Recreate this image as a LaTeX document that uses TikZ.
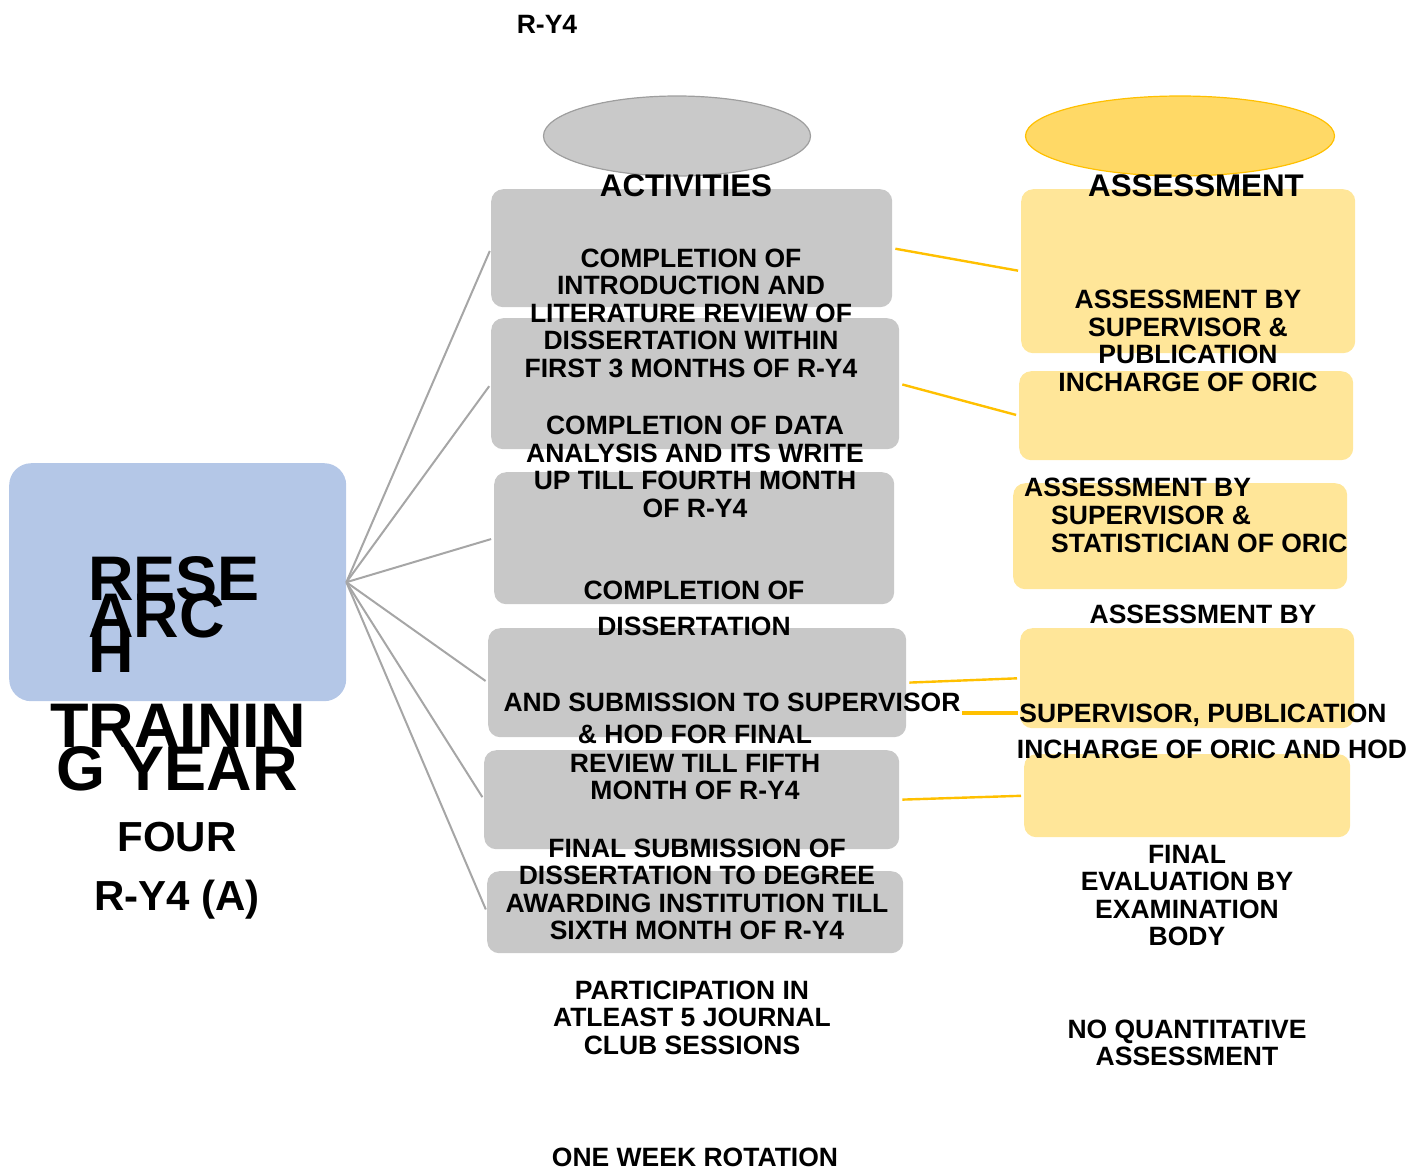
\documentclass[tikz,border=0pt]{standalone}
\usepackage{fontspec}
\setmainfont{Liberation Sans}
\usetikzlibrary{shapes.geometric}
\definecolor{boxgray}{HTML}{C8C8C8}
\definecolor{linegray}{HTML}{A6A6A6}
\definecolor{ellgray}{HTML}{C9C9C9}
\definecolor{ellgrayb}{HTML}{9E9E9E}
\definecolor{boxyel}{HTML}{FFE699}
\definecolor{ellyel}{HTML}{FFD966}
\definecolor{lineyel}{HTML}{FFC000}
\definecolor{hubblue}{HTML}{B4C7E7}
\tikzset{
  gbox/.style={draw=none, fill=boxgray, rounded corners=12pt, anchor=north west, inner sep=0pt},
  ybox/.style={draw=none, fill=boxyel, rounded corners=12pt, anchor=north west, inner sep=0pt},
  gline/.style={draw=linegray, line width=2pt, shorten >=3pt},
  yline/.style={draw=lineyel, line width=2.4pt, shorten >=3pt, shorten <=3pt},
  txt/.style={inner sep=0pt, align=center, font=\bfseries\fontsize{26.5}{27.5}\selectfont},
  head/.style={inner sep=0pt, font=\bfseries\fontsize{31.3}{34}\selectfont},
  big/.style={inner sep=0pt, font=\bfseries\fontsize{63}{63}\selectfont},
  mid/.style={inner sep=0pt, font=\bfseries\fontsize{42}{44}\selectfont},
}
\begin{document}
\begin{tikzpicture}[x=1pt,y=-1pt]
\useasboundingbox (0,0) rectangle (1413,1170);
% hub
\node[fill=hubblue, rounded corners=22pt, anchor=north west, minimum width=337pt, minimum height=238pt, inner sep=0pt] (hub) at (9,463) {};
% ellipses
\node[ellipse, draw=ellgrayb, line width=1.2pt, fill=ellgray, minimum width=267pt, minimum height=80pt, inner sep=0pt] (eact) at (677,136) {};
\node[ellipse, draw=lineyel, line width=1.2pt, fill=ellyel, minimum width=309pt, minimum height=80pt, inner sep=0pt] (eass) at (1180,136) {};
% gray boxes
\node[gbox, minimum width=401pt, minimum height=118pt] (g1) at (491,189) {};
\node[gbox, minimum width=408pt, minimum height=131pt] (g2) at (491,318) {};
\node[gbox, minimum width=400pt, minimum height=132pt] (g3) at (494,472) {};
\node[gbox, minimum width=418pt, minimum height=109pt] (g4) at (488,628) {};
\node[gbox, minimum width=415pt, minimum height=99pt] (g5) at (484,750) {};
\node[gbox, minimum width=416pt, minimum height=82pt] (g6) at (487,871) {};
% yellow boxes
\node[ybox, minimum width=334pt, minimum height=164pt] (y1) at (1021,189) {};
\node[ybox, minimum width=334pt, minimum height=89pt] (y2) at (1019,371) {};
\node[ybox, minimum width=334pt, minimum height=106pt] (y3) at (1013,483) {};
\node[ybox, minimum width=334pt, minimum height=100pt] (y4) at (1020,628) {};
\node[ybox, minimum width=326pt, minimum height=83pt] (y5) at (1024,754) {};
% gray connectors
\foreach \g in {g1,g2,g3,g4,g5,g6} \draw[gline] (hub.east) -- (\g.west);
% yellow connectors
\draw[yline] (g1.east) -- (y1.west);
\draw[yline] (g2.east) -- (y2.west);
\draw[yline] (g4.east) -- (y4.west);
\draw[yline] (g5.east) -- (y5.west);
\coordinate (u1) at (962,713);
\coordinate (u2) at (1018,713);
\draw[draw=lineyel, line width=3.5pt] (u1) -- (u2);
% texts
\node[txt] (t0) at (547,24) {R-Y4};
\node[head] (hact) at (686,186) {ACTIVITIES};
\node[head] (hass) at (1196,186) {ASSESSMENT};
\node[big, anchor=base west] (r1) at (88,600) {RESE};
\node[big, anchor=base west] (r2) at (88,637) {ARC};
\node[big, anchor=base west] (r3) at (88,672) {H};
\node[big, anchor=base] (r4) at (178,747) {TRAININ};
\node[big, anchor=base] (r5) at (177,790) {G YEAR};
\node[mid] (r6) at (177,837) {FOUR};
\node[mid] (r7) at (177,900) {R-Y4 (A)};
\node[txt] (a1) at (691,313) {COMPLETION OF\\INTRODUCTION AND\\LITERATURE REVIEW OF\\DISSERTATION WITHIN\\FIRST 3 MONTHS OF R-Y4};
\node[txt] (a2) at (695,467) {COMPLETION OF DATA\\ANALYSIS AND ITS WRITE\\UP TILL FOURTH MONTH\\OF R-Y4};
\node[txt] (a3) at (694,590) {COMPLETION OF};
\node[txt] (a3b) at (694,626) {DISSERTATION};
\node[txt] (a3c) at (732,702) {AND SUBMISSION TO SUPERVISOR};
\node[txt] (a3d) at (695,734) {\& HOD FOR FINAL};
\node[txt] (a3e) at (695,763) {REVIEW TILL FIFTH};
\node[txt] (a3f) at (695,790) {MONTH OF R-Y4};
\node[txt] (a4) at (697,889.5) {FINAL SUBMISSION OF\\DISSERTATION TO DEGREE\\AWARDING INSTITUTION TILL\\SIXTH MONTH OF R-Y4};
\node[txt] (a5) at (692,1017.5) {PARTICIPATION IN\\ATLEAST 5 JOURNAL\\CLUB SESSIONS};
\node[txt] (a6) at (695,1157) {ONE WEEK ROTATION};
\node[txt] (s1) at (1188,341) {ASSESSMENT BY\\SUPERVISOR \&\\PUBLICATION\\INCHARGE OF ORIC};
\node[txt, anchor=west] (s2a) at (1024,487) {ASSESSMENT BY};
\node[txt, anchor=west] (s2b) at (1051,515) {SUPERVISOR \&};
\node[txt, anchor=west] (s2c) at (1051,543) {STATISTICIAN OF ORIC};
\node[txt] (s3a) at (1203,614) {ASSESSMENT BY};
\node[txt] (s3b) at (1203,715) {SUPERVISOR, PUBLICATION};
\node[txt] (s3c) at (1212,749) {INCHARGE OF ORIC AND HOD};
\node[txt] (s4) at (1187,895.5) {FINAL\\EVALUATION BY\\EXAMINATION\\BODY};
\node[txt] (s5) at (1187,1043) {NO QUANTITATIVE\\ASSESSMENT};
\end{tikzpicture}
\end{document}
